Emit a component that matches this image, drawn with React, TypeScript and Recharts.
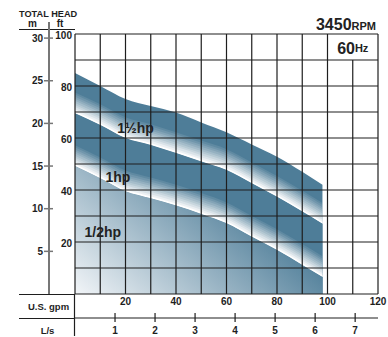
import React from "react";
import {
  ComposedChart,
  Area,
  XAxis,
  YAxis,
  ReferenceLine,
  ReferenceArea,
  ReferenceDot,
} from "recharts";

// flow points (U.S. gpm) and head (ft) for each motor size
const gpm = [0, 10, 20, 30, 40, 50, 60, 70, 80, 90, 98];
const hp15 = [85, 80, 75, 72.3, 69.8, 66, 62.2, 57.5, 52.8, 47, 42];
const hp1 = [69.5, 65, 60, 57.3, 54.2, 51, 47.7, 42.6, 37.4, 31.7, 27];
const hp05 = [49.2, 44.5, 39.5, 36.8, 34, 30.8, 27.2, 22, 16.9, 11.2, 6.5];

const gpmTicks = [0, 10, 20, 30, 40, 50, 60, 70, 80, 90, 100, 110, 120];
const ftTicks = [0, 10, 20, 30, 40, 50, 60, 70, 80, 90, 100];
const mTicks = [5, 10, 15, 20, 25, 30];
const lsTicks = [1, 2, 3, 4, 5, 6, 7];

const curveLabels = [
  { text: "1½hp", gpm: 24, ft: 64 },
  { text: "1hp", gpm: 17, ft: 45 },
  { text: "1/2hp", gpm: 11, ft: 24 },
];

const GPM_PER_LS = 15.850323;
const FT_PER_M = 3.28084;

const data = gpm.map((g, i) => ({
  gpm: g,
  ls: g / GPM_PER_LS,
  m: hp15[i] / FT_PER_M,
  hp15: hp15[i],
  hp1: hp1[i],
  hp05: hp05[i],
}));

const DARK = "#4e7d98";
const INK = "#1e1e1e";
const FONT = "'Liberation Sans', Arial, sans-serif";

// white fade above a lower curve, built from stacked thin range areas
const FADE_LAYERS = 10;
const FADE_STEP = 0.8;
const fadeLayers = (key: "hp1" | "hp05") =>
  Array.from({ length: FADE_LAYERS }, (_, k) => {
    const i = k + 1;
    return (
      <Area
        key={key + i}
        xAxisId="gpm"
        yAxisId="ft"
        type="monotone"
        dataKey={(d: any) => [d[key], d[key] + i * FADE_STEP]}
        stroke="none"
        fill="#ffffff"
        fillOpacity={1 / i}
        isAnimationActive={false}
        activeDot={false}
      />
    );
  });

const showEvery20 = (v: number) => (v !== 0 && v % 20 === 0 ? String(v) : "");

const MTick = ({ x, y, payload }: any) => (
  <g>
    <line x1={x - 5} x2={x + 4} y1={y} y2={y} stroke="#777" strokeWidth={1.5} />
    <text x={x - 6} y={y} textAnchor="end" dominantBaseline="central" fontSize={10} fontWeight="bold" fill={INK} fontFamily={FONT}>
      {payload.value}
    </text>
  </g>
);

const FtTick = ({ x, y, payload }: any) => {
  const t = showEvery20(payload.value);
  if (!t) return null;
  return (
    <text x={x - 3} y={y + 1} textAnchor="end" dominantBaseline="central" fontSize={10} fontWeight="bold" fill={INK} fontFamily={FONT}>
      {t}
    </text>
  );
};

const GpmTick = ({ x, y, payload }: any) => {
  const t = showEvery20(payload.value);
  if (!t) return null;
  return (
    <text x={x} y={y + 7} textAnchor="middle" dominantBaseline="central" fontSize={10} fontWeight="bold" fill={INK} fontFamily={FONT}>
      {t}
    </text>
  );
};

const LsTick = ({ x, y, payload }: any) => (
  <g>
    <line x1={x} x2={x} y1={y - 5} y2={y + 4} stroke={INK} strokeWidth={1.2} />
    <text x={x} y={y + 12} textAnchor="middle" dominantBaseline="central" fontSize={10} fontWeight="bold" fill={INK} fontFamily={FONT}>
      {payload.value}
    </text>
  </g>
);

const CurveLabel = ({ cx, cy, text }: any) => (
  <text x={cx} y={cy} textAnchor="middle" dominantBaseline="central" fontSize={14} fontWeight="bold" fill="#222" fontFamily={FONT}>
    {text}
  </text>
);

const HzLabel = ({ viewBox }: any) => (
  <text
    x={viewBox.x + viewBox.width / 2}
    y={viewBox.y + viewBox.height / 2 + 1}
    textAnchor="middle"
    dominantBaseline="central"
    fontWeight="bold"
    fill="#222"
    fontFamily={FONT}
  >
    <tspan fontSize={16}>60</tspan>
    <tspan fontSize={11}>Hz</tspan>
  </text>
);

// the 60Hz box sits in the top-right cell, so the 110 gpm line stops below it
const gridSegment = (v: number) =>
  v === 110
    ? [{ x: v, y: 0 }, { x: v, y: 90 }]
    : [{ x: v, y: 0 }, { x: v, y: 100 }];

export default function App() {
  return (
    <div style={{ position: "relative", width: 388, height: 337, background: "#fff" }}>
      <style>{`body{margin:0}`}</style>
      <ComposedChart
        width={388}
        height={337}
        data={data}
        margin={{ top: 34, right: 10, left: 0, bottom: 0 }}
      >
        <defs>
          <linearGradient id="lowBand" x1="0" y1="1" x2="0.85" y2="0.5">
            <stop offset="0%" stopColor="#f2f5f8" />
            <stop offset="100%" stopColor={DARK} />
          </linearGradient>
        </defs>
        <XAxis
          xAxisId="gpm"
          dataKey="gpm"
          type="number"
          domain={[0, 120]}
          ticks={gpmTicks}
          interval={0}
          height={24}
          axisLine={false}
          tickLine={false}
          tickSize={0}
          tickMargin={0}
          tick={<GpmTick />}
        />
        <XAxis
          xAxisId="ls"
          dataKey="ls"
          type="number"
          domain={[0, 120 / GPM_PER_LS]}
          allowDataOverflow
          ticks={lsTicks}
          interval={0}
          height={19}
          axisLine={{ stroke: INK, strokeWidth: 1.2 }}
          tickLine={false}
          tickSize={0}
          tickMargin={0}
          tick={<LsTick />}
        />
        <YAxis
          yAxisId="ft"
          type="number"
          domain={[0, 100]}
          ticks={ftTicks}
          interval={0}
          width={26}
          axisLine={false}
          tickLine={false}
          tickSize={0}
          tickMargin={0}
          tick={<FtTick />}
        />
        <YAxis
          yAxisId="m"
          dataKey="m"
          type="number"
          domain={[0, 100 / FT_PER_M]}
          allowDataOverflow
          ticks={mTicks}
          interval={0}
          width={49}
          axisLine={{ stroke: "#777", strokeWidth: 2 }}
          tickLine={false}
          tickSize={0}
          tickMargin={0}
          tick={<MTick />}
        />

        <Area xAxisId="gpm" yAxisId="ft" type="monotone" dataKey="hp15" baseValue={0} stroke="none" fill={DARK} fillOpacity={1} isAnimationActive={false} activeDot={false} />
        {fadeLayers("hp1")}
        <Area xAxisId="gpm" yAxisId="ft" type="monotone" dataKey="hp1" baseValue={0} stroke="none" fill={DARK} fillOpacity={1} isAnimationActive={false} activeDot={false} />
        {fadeLayers("hp05")}
        <Area xAxisId="gpm" yAxisId="ft" type="monotone" dataKey="hp05" baseValue={0} stroke="none" fill="url(#lowBand)" fillOpacity={1} isAnimationActive={false} activeDot={false} />

        <ReferenceArea
          xAxisId="gpm"
          yAxisId="ft"
          x1={100}
          x2={120}
          y1={90}
          y2={100}
          fill="#fff"
          fillOpacity={1}
          stroke="none"
          label={<HzLabel />}
        />
        {gpmTicks.map((v) => (
          <ReferenceLine
            key={"gx" + v}
            xAxisId="gpm"
            yAxisId="ft"
            segment={gridSegment(v)}
            stroke={INK}
            strokeWidth={1.2}
          />
        ))}
        {ftTicks.map((v) => (
          <ReferenceLine
            key={"gy" + v}
            xAxisId="gpm"
            yAxisId="ft"
            y={v}
            stroke={INK}
            strokeWidth={1.2}
          />
        ))}
        {curveLabels.map((c) => (
          <ReferenceDot
            key={c.text}
            xAxisId="gpm"
            yAxisId="ft"
            x={c.gpm}
            y={c.ft}
            r={0}
            shape={(p: any) => <CurveLabel cx={p.cx} cy={p.cy} text={c.text} />}
          />
        ))}
      </ComposedChart>

      <svg
        width={388}
        height={337}
        style={{ position: "absolute", left: 0, top: 0, pointerEvents: "none" }}
        fontFamily={FONT}
      >
        <text x={19} y={17} fontSize={9.2} fontWeight="bold" fill={INK}>TOTAL HEAD</text>
        <text x={32.5} y={27} fontSize={10} fontWeight="bold" fill={INK} textAnchor="middle">m</text>
        <text x={60} y={27} fontSize={10} fontWeight="bold" fill={INK} textAnchor="middle">ft</text>
        <line x1={19} x2={75} y1={29.5} y2={29.5} stroke={INK} strokeWidth={1.2} />
        <line x1={49} x2={49} y1={22} y2={34} stroke="#777" strokeWidth={2} />
        <line x1={19} x2={75} y1={294.5} y2={294.5} stroke={INK} strokeWidth={1.2} />
        <line x1={19} x2={75} y1={318.5} y2={318.5} stroke={INK} strokeWidth={1.2} />
        <line x1={74.5} x2={74.5} y1={294} y2={336} stroke={INK} strokeWidth={1.2} />
        <text x={48.5} y={306} fontSize={9.5} fontWeight="bold" fill={INK} textAnchor="middle" dominantBaseline="central">U.S. gpm</text>
        <text x={47.5} y={330} fontSize={9.5} fontWeight="bold" fill={INK} textAnchor="middle" dominantBaseline="central">L/s</text>
        <text x={376} y={30} textAnchor="end" fontWeight="bold" fill="#222">
          <tspan fontSize={16}>3450</tspan>
          <tspan fontSize={11}>RPM</tspan>
        </text>
      </svg>
    </div>
  );
}
